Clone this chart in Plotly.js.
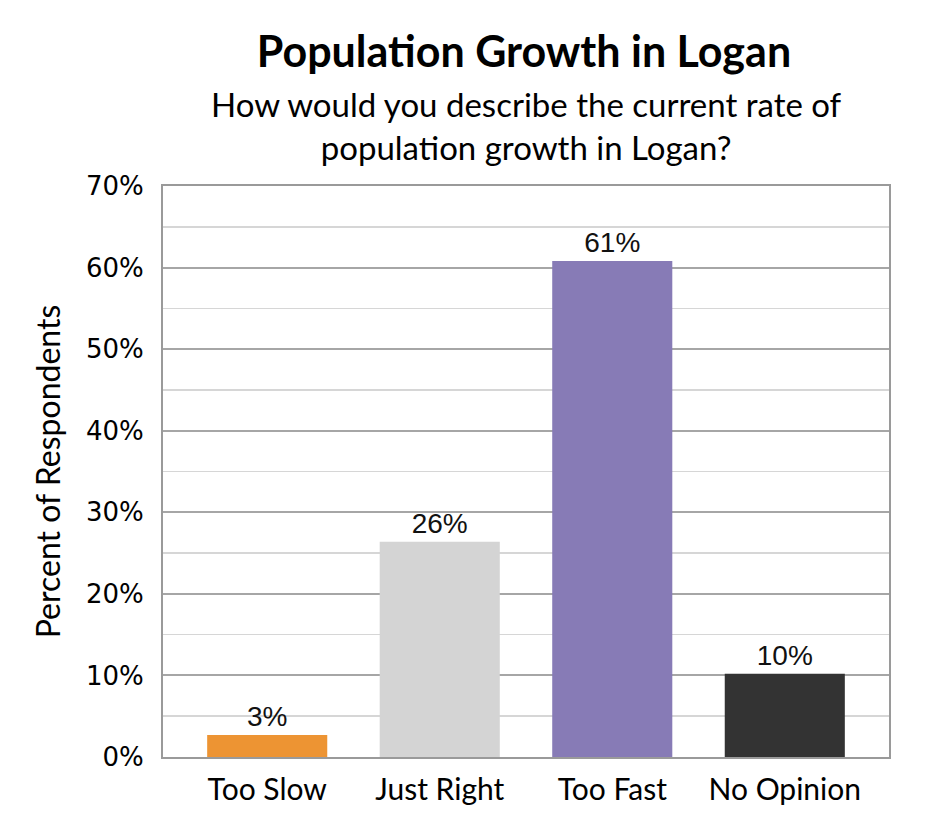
<!DOCTYPE html>
<html>
<head>
<meta charset="utf-8">
<script src="https://cdn.plot.ly/plotly-3.0.1.min.js"></script>
<style>
  html, body { margin: 0; padding: 0; background: #fff; }
  #chart { width: 945px; height: 840px; }
</style>
</head>
<body>
<div id="chart"></div>
<script>
const categories = ['Too Slow', 'Just Right', 'Too Fast', 'No Opinion'];
const percents = [2.7, 26.4, 60.8, 10.2];
const barColors = ['#ed9433', '#d4d4d4', '#877bb6', '#333333'];
const yTickVals = [0, 10, 20, 30, 40, 50, 60, 70];
const yTickText = ['0%', '10%', '20%', '30%', '40%', '50%', '60%', '70%'];

const calibriLike = 'Lato, "Open Sans", sans-serif';

const trace = {
    x: categories,
    y: percents,
    type: 'bar',
    marker: {color: barColors},
    texttemplate: '%{y:.0f}%',
    textposition: 'outside',
    constraintext: 'none',
    cliponaxis: false,
    textfont: {family: '"Liberation Sans", Arial, sans-serif', size: 28, color: '#111'},
    hoverinfo: 'skip'
};

const layout = {
    width: 945,
    height: 840,
    paper_bgcolor: '#ffffff',
    plot_bgcolor: '#ffffff',
    margin: {t: 186, b: 83, l: 163, r: 56},
    showlegend: false,
    bargap: 0.304,
    title: {
        text: '<b>Population Growth in Logan</b>',
        font: {family: calibriLike, size: 43, color: '#000'},
        x: 524 / 945, xref: 'container', xanchor: 'center',
        y: 1 - 52 / 840, yref: 'container', yanchor: 'middle'
    },
    annotations: [{
        text: 'How would you describe the current rate of<br>population growth in Logan?',
        xref: 'paper', yref: 'paper',
        x: 0.5, y: (757 - 126) / 571,
        xanchor: 'center', yanchor: 'middle',
        showarrow: false,
        align: 'center',
        font: {family: calibriLike, size: 33, color: '#000'}
    }],
    xaxis: {
        range: [-0.604, 3.604],
        showline: true, mirror: true,
        linecolor: '#9a9a9a', linewidth: 2,
        ticks: '', ticklabelstandoff: 5,
        tickfont: {family: calibriLike, size: 30, color: '#000'}
    },
    yaxis: {
        range: [0, 70],
        tickvals: yTickVals,
        ticktext: yTickText,
        showline: true, mirror: true,
        linecolor: '#9a9a9a', linewidth: 2,
        showgrid: true, gridcolor: '#a6a6a6', gridwidth: 2,
        zeroline: false,
        ticks: '', ticklabelstandoff: 12,
        tickfont: {family: '"DejaVu Sans", Verdana, sans-serif', size: 26, color: '#000'},
        minor: {dtick: 5, showgrid: true, gridcolor: '#d6d6d6', gridwidth: 1.5},
        title: {
            text: 'Percent of Respondents',
            font: {family: calibriLike, size: 32, color: '#000'},
            standoff: 16
        }
    }
};

Plotly.newPlot('chart', [trace], layout, {displayModeBar: false, staticPlot: true});
</script>
</body>
</html>
